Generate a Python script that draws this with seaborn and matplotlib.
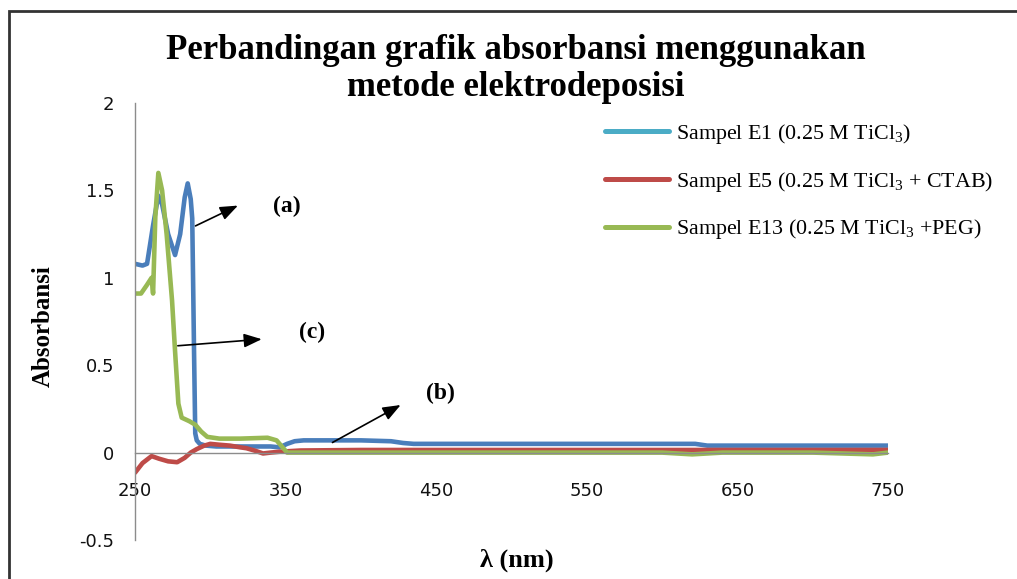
import pandas as pd
import matplotlib.pyplot as plt
from matplotlib.lines import Line2D
from matplotlib.patches import Rectangle
import seaborn as sns

# data (wavelength in nm, absorbance)
wl_e1 = [250, 255, 258, 262, 265.5, 268, 272, 276.6, 280, 283, 285, 287, 288, 288.6, 289.2,
         290, 291, 293, 297, 304, 328, 340, 346, 351, 356, 362, 373, 400, 420, 428, 435,
         500, 600, 622, 630, 650, 700, 750]
abs_e1 = [1.08, 1.07, 1.08, 1.30, 1.47, 1.42, 1.25, 1.13, 1.25, 1.46, 1.54, 1.45, 1.34, 0.97, 0.58,
          0.11, 0.07, 0.05, 0.04, 0.035, 0.035, 0.035, 0.03, 0.05, 0.065, 0.07, 0.07, 0.07, 0.065, 0.055, 0.05,
          0.05, 0.05, 0.05, 0.04, 0.04, 0.04, 0.04]

wl_e5 = [250, 255, 261, 266, 272, 278, 283, 287, 291, 296, 300, 306, 313, 320, 324, 330, 335,
         340, 346, 360, 400, 500, 600, 700, 750]
abs_e5 = [-0.115, -0.06, -0.02, -0.035, -0.05, -0.055, -0.03, 0.0, 0.02, 0.04, 0.05, 0.045, 0.04, 0.03,
          0.025, 0.01, -0.005, 0.0, 0.005, 0.012, 0.015, 0.015, 0.015, 0.015, 0.015]

wl_e13 = [250, 254, 258, 261, 262, 263.5, 265.5, 268, 271, 274.6, 276.6, 278.8, 281, 286, 290,
          294, 298, 306, 320, 338, 344, 351, 360, 400, 500, 600, 620, 640, 700, 740, 750]
abs_e13 = [0.91, 0.91, 0.96, 1.0, 0.91, 1.35, 1.6, 1.5, 1.25, 0.87, 0.58, 0.28, 0.2, 0.18, 0.16,
           0.12, 0.09, 0.08, 0.08, 0.085, 0.07, 0.0, 0.0, 0.0, 0.0, 0.0, -0.01, 0.0, 0.0, -0.01, 0.0]

series = ["E1", "E5", "E13"]
labels = ["Sampel E1 (0.25 M TiCl$_3$)",
          "Sampel E5 (0.25 M TiCl$_3$ + CTAB)",
          "Sampel E13 (0.25 M TiCl$_3$ +PEG)"]
colors = {"E1": "#4a7ebb", "E5": "#be4b48", "E13": "#98b954"}
legend_colors = ["#4bacc6", "#be4b48", "#98b954"]

x_ticks = [250, 350, 450, 550, 650, 750]
y_ticks = [-0.5, 0, 0.5, 1, 1.5, 2]
y_tick_labels = ["-0.5", "0", "0.5", "1", "1.5", "2"]

frames = []
for name, wl, ab in [("E1", wl_e1, abs_e1), ("E5", wl_e5, abs_e5), ("E13", wl_e13, abs_e13)]:
    frames.append(pd.DataFrame({"wl": wl, "abs": ab, "sampel": name}))
df = pd.concat(frames, ignore_index=True)

sns.set_theme(style="white")
plt.rcParams["font.family"] = ["DejaVu Sans"]
plt.rcParams["text.color"] = "black"
plt.rcParams["mathtext.fontset"] = "custom"
plt.rcParams["mathtext.rm"] = "Liberation Serif"
SERIF = ["Liberation Serif", "DejaVu Serif"]

fig = plt.figure(figsize=(10.17, 5.79), dpi=100)
ax = fig.add_axes([135 / 1017, 1 - 540 / 579, 753 / 1017, 437 / 579])

sns.lineplot(data=df, x="wl", y="abs", hue="sampel", palette=colors, hue_order=series,
             sort=False, estimator=None, linewidth=3.3, ax=ax, legend=False)

ax.set_xlim(250, 750)
ax.set_ylim(-0.5, 2)
ax.set_xticks(x_ticks)
ax.set_yticks(y_ticks)
ax.set_yticklabels(y_tick_labels)

for s in ["top", "right"]:
    ax.spines[s].set_visible(False)
ax.spines["bottom"].set_position(("data", 0))
for s in ["left", "bottom"]:
    ax.spines[s].set_color("#8c8c8c")
    ax.spines[s].set_linewidth(1.0)
ax.tick_params(axis="both", direction="out", color="#8c8c8c", width=1.0, length=6,
               labelsize=13, labelcolor="#111111")
ax.tick_params(axis="x", pad=15)
ax.tick_params(axis="y", pad=9)
ax.grid(False)

ax.set_xlabel("λ (nm)", family=SERIF, fontweight="bold", fontsize=19, color="black")
ax.set_ylabel("Absorbansi", family=SERIF, fontweight="bold", fontsize=18, color="black")
ax.xaxis.set_label_coords(0.507, -0.02)
ax.yaxis.set_label_coords(-0.107, 0.49)

fig.suptitle("Perbandingan grafik absorbansi menggunakan\nmetode elektrodeposisi",
             x=516 / 1017, y=1 - 34 / 579, va="top", family=SERIF, fontweight="bold",
             fontsize=25, linespacing=1.15, color="black")

# annotation arrows
arrow_kw = dict(arrowstyle="-|>,head_length=0.9,head_width=0.35", color="black", lw=1.2)
ax.annotate("", xy=(320, 1.42), xytext=(288.5, 1.29), arrowprops=arrow_kw)
ax.annotate("", xy=(336, 0.65), xytext=(276.6, 0.61), arrowprops=arrow_kw)
ax.annotate("", xy=(428, 0.28), xytext=(379.5, 0.05), arrowprops=arrow_kw)
lab_kw = dict(family=SERIF, fontweight="bold", fontsize=17, ha="center", va="center")
ax.text(351, 1.41, "(a)", **lab_kw)
ax.text(367.5, 0.69, "(c)", **lab_kw)
ax.text(452.5, 0.34, "(b)", **lab_kw)

handles = [Line2D([], [], color=c, lw=3.6) for c in legend_colors]
fig.legend(handles, labels, loc="upper left", bbox_to_anchor=(605 / 1017, 1 - 122 / 579),
           bbox_transform=fig.transFigure, frameon=False, borderpad=0, borderaxespad=0,
           handlelength=2.9, handletextpad=0.35, labelspacing=1.08,
           prop={"family": SERIF, "size": 15.8})

# outer frame (cropped at right/bottom in the reference)
fig.patches.append(Rectangle((9 / 1017, -0.1), 1.2, 1 - 11 / 579 + 0.1, transform=fig.transFigure,
                             fill=False, edgecolor="#333333", lw=2.0))

fig.savefig("out.png", dpi=100)
